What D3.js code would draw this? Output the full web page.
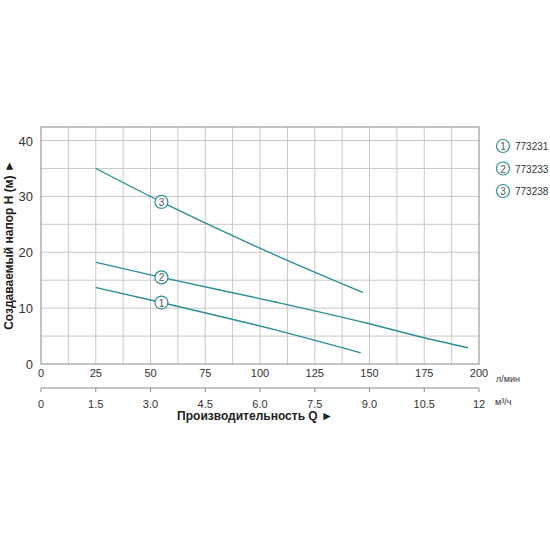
<!DOCTYPE html>
<html><head><meta charset="utf-8">
<script src="https://cdn.jsdelivr.net/npm/d3@7"></script>
<style>body{margin:0;background:#fff}text{font-family:"Liberation Sans",Arial,sans-serif}</style>
</head><body><svg id="c" width="550" height="550"></svg>
<script>
var models = ["773231", "773233", "773238"]
var curve1 = [[25, 13.7], [55, 11], [107, 6.1], [146, 2]]
var curve2 = [[25, 18.2], [55, 15.5], [107, 11.1], [150, 7.2], [175, 4.7], [195, 2.9]]
var curve3 = [[25, 35], [55, 29], [107, 19.5], [147, 12.8]]
var labelAt = [55, 55, 55]
var xTicks = [0, 25, 50, 75, 100, 125, 150, 175, 200]
var m3Ticks = ["0", "1.5", "3.0", "4.5", "6.0", "7.5", "9.0", "10.5", "12"]
var yTicks = [0, 10, 20, 30, 40]
var teal = "#2a8f96"

var svg = d3.select("#c")
var x = d3.scaleLinear().domain([0, 200]).range([41, 479])
var y = d3.scaleLinear().domain([0, 40]).range([364, 140.5])

var g = svg.append("g")
g.selectAll(".vx").data(d3.range(12.5, 200, 12.5)).enter().append("line")
    .attr("x1", x).attr("x2", x).attr("y1", 127).attr("y2", 364)
    .attr("stroke", "#c8c8c8")
g.selectAll(".hy").data(d3.range(5, 45, 5)).enter().append("line")
    .attr("y1", y).attr("y2", y).attr("x1", 41).attr("x2", 479)
    .attr("stroke", "#c8c8c8")
g.append("rect").attr("x", 41).attr("y", 127).attr("width", 438).attr("height", 237)
    .attr("fill", "none").attr("stroke", "#888")

g.selectAll(".yl").data(yTicks).enter().append("text")
    .attr("x", 33).attr("y", function (d) { return y(d) + 5 })
    .attr("text-anchor", "end").attr("font-size", 13).attr("fill", "#333").text(function (d) { return d })
g.selectAll(".xl").data(xTicks).enter().append("text")
    .attr("x", x).attr("y", 377).attr("text-anchor", "middle")
    .attr("font-size", 11).attr("fill", "#333").text(function (d) { return d })
svg.append("text").attr("x", 496).attr("y", 382).attr("font-size", 9).attr("fill", "#333").text("л/мин")

// second axis m3/h
var x2 = d3.scaleLinear().domain([0, 12]).range([41, 479])
svg.append("line").attr("x1", 41).attr("x2", 479).attr("y1", 388).attr("y2", 388).attr("stroke", "#888")
svg.selectAll(".t2").data(m3Ticks).enter().append("line")
    .attr("x1", function (d) { return x2(+d) }).attr("x2", function (d) { return x2(+d) })
    .attr("y1", 388).attr("y2", 392).attr("stroke", "#888")
svg.selectAll(".l2").data(m3Ticks).enter().append("text")
    .attr("x", function (d) { return x2(+d) }).attr("y", 408).attr("text-anchor", "middle")
    .attr("font-size", 11).attr("fill", "#333").text(function (d) { return d })
svg.append("text").attr("x", 495).attr("y", 405).attr("font-size", 9).attr("fill", "#333").text("м³/ч")
svg.append("text").attr("x", 255).attr("y", 420).attr("text-anchor", "middle")
    .attr("font-size", 12).attr("font-weight", "bold").attr("fill", "#222").text("Производительность Q ►")
svg.append("text").attr("transform", "translate(13,245) rotate(-90)").attr("text-anchor", "middle")
    .attr("font-size", 12).attr("font-weight", "bold").attr("fill", "#222").text("Создаваемый напор Н (м) ►")

var line = d3.line().x(function (d) { return x(d[0]) }).y(function (d) { return y(d[1]) }).curve(d3.curveMonotoneX)
var curves = [curve1, curve2, curve3]
curves.forEach(function (c, i) {
    svg.append("path").attr("d", line(c)).attr("fill", "none").attr("stroke", teal).attr("stroke-width", 1.4)
    var p = c.find(function (d) { return d[0] === labelAt[i] })
    svg.append("circle").attr("cx", x(p[0])).attr("cy", y(p[1])).attr("r", 6.5)
        .attr("fill", "#fff").attr("stroke", teal).attr("stroke-width", 1.2)
    svg.append("text").attr("x", x(p[0])).attr("y", y(p[1]) + 4).attr("text-anchor", "middle")
        .attr("font-size", 10).attr("fill", "#555").text(i + 1)
})

models.forEach(function (m, i) {
    var cy = 146 + i * 22.5
    svg.append("circle").attr("cx", 503).attr("cy", cy).attr("r", 6.5)
        .attr("fill", "#fff").attr("stroke", teal).attr("stroke-width", 1.2)
    svg.append("text").attr("x", 503).attr("y", cy + 4).attr("text-anchor", "middle")
        .attr("font-size", 10).attr("fill", "#555").text(i + 1)
    svg.append("text").attr("x", 515).attr("y", cy + 4).attr("font-size", 10).attr("fill", "#333").text(m)
})
</script></body></html>
